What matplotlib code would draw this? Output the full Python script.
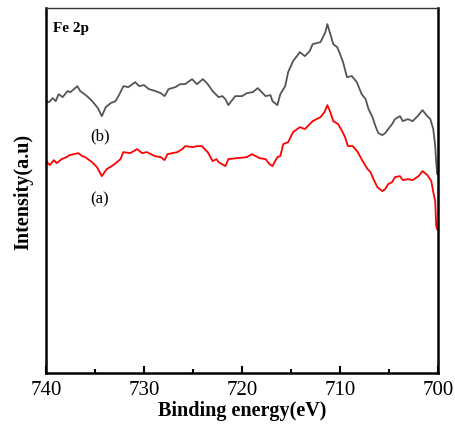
import numpy as np
import matplotlib
matplotlib.use("Agg")
import matplotlib.pyplot as plt
from matplotlib.ticker import MultipleLocator

plt.rcParams['font.family'] = ['Liberation Serif', 'DejaVu Serif']

# Fe 2p spectra, binding energy (eV) vs intensity (a.u.)
energy_b = [740.0, 739.7, 739.3, 739.0, 738.7, 738.3, 737.8, 737.5, 736.8, 736.5,
            736.2, 735.7, 735.2, 734.7, 734.3, 733.9, 733.4, 732.9, 732.5, 732.1,
            731.6, 730.9, 730.5, 730.0, 729.5, 728.8, 728.3, 727.9, 727.5, 726.8,
            726.3, 725.8, 725.1, 724.6, 724.0, 723.7, 723.5, 723.0, 722.4, 722.0,
            721.7, 721.4, 720.7, 720.0, 719.5, 718.9, 718.4, 718.0, 717.6, 717.1,
            716.9, 716.4, 716.1, 715.6, 715.3, 714.8, 714.1, 713.6, 713.1, 712.8,
            712.0, 711.5, 711.3, 711.0, 710.7, 710.3, 710.0, 709.7, 709.3, 708.8,
            708.3, 707.8, 707.4, 707.1, 706.7, 706.4, 706.1, 705.7, 705.4, 705.1,
            704.7, 704.4, 703.9, 703.6, 703.1, 702.6, 702.0, 701.6, 701.2, 700.8,
            700.5, 700.3, 700.2, 700.1]
intensity_b = [272, 271, 275, 272, 279, 276, 282, 281, 287, 282,
               280, 276, 271, 265, 257, 266, 270, 272, 279, 287,
               286, 291, 287, 288, 284, 282, 280, 277, 284, 286,
               289, 289, 294, 289, 294, 291, 289, 282, 276, 277,
               274, 268, 277, 277, 280, 281, 285, 281, 277, 278,
               272, 268, 279, 287, 301, 312, 321, 317, 322, 329,
               331, 341, 349, 339, 329, 326, 319, 311, 296, 297,
               291, 279, 274, 264, 256, 247, 240, 238, 240, 244,
               249, 254, 257, 252, 254, 252, 258, 263, 258, 254,
               244, 227, 211, 199]

energy_a = [740.0, 739.6, 739.2, 738.9, 738.4, 737.9, 737.6, 736.7, 736.3, 736.0,
            735.3, 734.8, 734.3, 733.8, 733.3, 733.0, 732.4, 732.1, 731.4, 730.7,
            730.2, 729.7, 728.9, 728.3, 727.9, 727.6, 726.6, 726.1, 725.8, 725.0,
            724.6, 724.1, 723.5, 723.0, 722.6, 722.4, 721.7, 721.4, 720.5, 719.5,
            719.0, 718.2, 717.6, 717.2, 716.9, 716.4, 716.1, 715.8, 715.3, 714.8,
            714.1, 713.6, 712.9, 712.8, 712.0, 711.6, 711.3, 711.0, 710.7, 710.2,
            709.8, 709.5, 709.2, 708.7, 708.2, 707.7, 707.2, 706.9, 706.6, 706.2,
            705.7, 705.4, 705.1, 704.7, 704.4, 703.9, 703.6, 703.1, 702.6, 702.0,
            701.6, 701.1, 700.7, 700.5, 700.3, 700.2, 700.1]
intensity_a = [212, 208, 213, 210, 214, 216, 218, 220, 217, 216,
               211, 206, 197, 204, 207, 209, 214, 221, 220, 224,
               220, 221, 217, 216, 213, 219, 221, 224, 227, 226,
               227, 227, 221, 212, 214, 211, 207, 214, 215, 216,
               219, 215, 214, 209, 207, 216, 217, 229, 231, 241,
               246, 244, 251, 252, 256, 261, 268, 261, 252, 249,
               242, 236, 227, 227, 221, 212, 204, 201, 194, 186,
               182, 184, 189, 191, 196, 197, 193, 194, 193, 197,
               202, 198, 192, 181, 172, 147, 144]

fig = plt.figure(figsize=(4.55, 4.35), dpi=100)
ax = fig.add_axes([0.101, 0.140, 0.862, 0.839])

ax.plot(energy_b, intensity_b, color='#555555', lw=1.3)
ax.plot(energy_a, intensity_a, color='#ff0000', lw=1.3)

ax.set_xlim(740, 700)
ax.set_ylim(0, 365)

ax.xaxis.set_major_locator(MultipleLocator(10))
ax.xaxis.set_minor_locator(MultipleLocator(5))
ax.tick_params(axis='x', which='both', direction='in', top=False,
               labelsize=15, width=1.5, pad=5)
ax.tick_params(axis='x', which='major', length=5)
ax.tick_params(axis='x', which='minor', length=3)
ax.set_yticks([])

for side in ['left', 'bottom', 'right']:
    ax.spines[side].set_linewidth(1.8)
ax.spines['top'].set_linewidth(1.0)
ax.spines['top'].set_color('#333333')

ax.set_xlabel('Binding energy(eV)', fontsize=14.5, fontweight='bold', labelpad=1)
ax.set_ylabel('Intensity(a.u)', fontsize=14.5, fontweight='bold', labelpad=9)

ax.text(0.018, 0.965, 'Fe 2p', transform=ax.transAxes, fontsize=11,
        fontweight='bold', va='top', ha='left')
ax.text(0.112, 0.641, '(b)', transform=ax.transAxes, fontsize=12)
ax.text(0.112, 0.468, '(a)', transform=ax.transAxes, fontsize=12)

fig.savefig('out.png', dpi=100)
